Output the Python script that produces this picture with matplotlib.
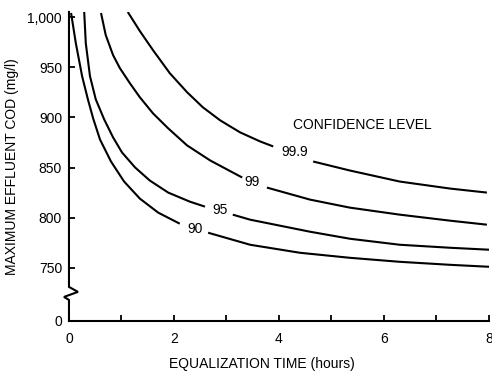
import numpy as np
import matplotlib
matplotlib.use("Agg")
import matplotlib.pyplot as plt

plt.rcParams['font.family'] = ['Liberation Sans', 'DejaVu Sans']

# ---- DATA ----
# each curve is split in two pieces around its in-line label
cl90_x_a = [0.04, 0.13, 0.25, 0.36, 0.46, 0.59, 0.80, 1.05, 1.35, 1.70, 2.11]
cl90_y_a = [1004, 974, 941, 918, 899, 878, 856, 836, 819, 805, 794]
cl90_x_b = [2.65, 3.45, 4.40, 5.35, 6.30, 7.26, 8.02]
cl90_y_b = [785, 773, 765, 760, 756, 753, 751]

cl95_x_a = [0.29, 0.32, 0.40, 0.51, 0.67, 0.84, 1.01, 1.26, 1.54, 1.89, 2.30, 2.59]
cl95_y_a = [1005, 974, 941, 918, 898, 880, 865, 850, 837, 825, 816, 811]
cl95_x_b = [3.12, 3.45, 4.59, 5.35, 6.30, 7.26, 8.02]
cl95_y_b = [803, 798, 786, 779, 773, 770, 768]

cl99_x_a = [0.61, 0.70, 0.84, 0.97, 1.16, 1.35, 1.60, 1.89, 2.25, 2.69, 3.30]
cl99_y_a = [1004, 982, 962, 949, 934, 920, 904, 889, 872, 857, 840]
cl99_x_b = [3.77, 4.59, 5.35, 6.30, 7.26, 7.96]
cl99_y_b = [830, 818, 810, 803, 797, 793]

cl999_x_a = [1.12, 1.35, 1.60, 1.92, 2.25, 2.55, 2.88, 3.26, 3.64, 3.89]
cl999_y_a = [1005, 986, 967, 944, 925, 910, 897, 885, 876, 871]
cl999_x_b = [4.65, 5.35, 6.30, 7.26, 7.96]
cl999_y_b = [856, 847, 836, 829, 825]

curve_labels = ["90", "95", "99", "99.9"]
label_x = [2.40, 2.88, 3.49, 4.30]
label_y = [789, 808, 836, 865]

x_ticks = [0, 1, 2, 3, 4, 5, 6, 7, 8]
x_ticklabels = ["0", "", "2", "", "4", "", "6", "", "8"]

# y axis is broken: "0" is drawn just below the 750 line
Y_ZERO_POS = 697
y_ticks = [Y_ZERO_POS, 750, 800, 850, 900, 950, 1000]
y_ticklabels = ["0", "750", "800", "850", "900", "950", "1,000"]

# ---- PLOT ----
fig = plt.figure(figsize=(4.92, 3.75), dpi=100)
ax = fig.add_axes([0.1402, 0.144, 0.8537, 0.824])

lw = 1.5
for xa, ya, xb, yb in [(cl90_x_a, cl90_y_a, cl90_x_b, cl90_y_b),
                       (cl95_x_a, cl95_y_a, cl95_x_b, cl95_y_b),
                       (cl99_x_a, cl99_y_a, cl99_x_b, cl99_y_b),
                       (cl999_x_a, cl999_y_a, cl999_x_b, cl999_y_b)]:
    ax.plot(xa, ya, color='black', lw=lw, solid_capstyle='butt')
    ax.plot(xb, yb, color='black', lw=lw, solid_capstyle='butt')

for lab, lx, ly in zip(curve_labels, label_x, label_y):
    ax.text(lx, ly, lab, ha='center', va='center', fontsize=10)

ax.text(5.58, 892, "CONFIDENCE LEVEL", ha='center', va='center', fontsize=10)

ax.set_xlim(0, 8)
ax.set_ylim(Y_ZERO_POS, 1005)

ax.set_xticks(x_ticks)
ax.set_xticklabels(x_ticklabels)
ax.set_yticks(y_ticks)
ax.set_yticklabels(y_ticklabels)

ax.tick_params(axis='x', direction='in', length=4, width=1.3, pad=8, labelsize=10)
ax.tick_params(axis='y', direction='in', length=4, width=1.3, pad=5, labelsize=10)

for s in ['top', 'right', 'left']:
    ax.spines[s].set_visible(False)
ax.spines['bottom'].set_linewidth(1.5)

# left axis line with the break mark
brk_x = [0, 0, 0.171, -0.095, 0, 0]
brk_y = [1005, 731, 726, 721, 718, Y_ZERO_POS]
ax.plot(brk_x, brk_y, color='black', lw=1.5, clip_on=False,
        solid_joinstyle='miter')

ax.set_xlabel("EQUALIZATION TIME (hours)", fontsize=10)
ax.xaxis.set_label_coords(0.46, -0.115)
ax.set_ylabel("MAXIMUM EFFLUENT COD (mg/l)", fontsize=10, labelpad=6)

fig.savefig("out.png", dpi=100)
